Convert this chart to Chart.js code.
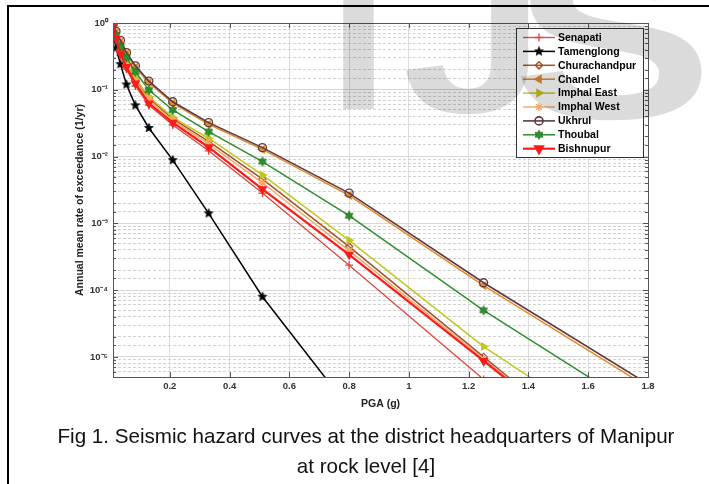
<!DOCTYPE html>
<html><head><meta charset="utf-8">
<script src="https://cdn.jsdelivr.net/npm/chart.js@4.4.1/dist/chart.umd.min.js"></script>
<style>
html,body{margin:0;padding:0;background:#fff;overflow:hidden;width:709px;height:484px;}
#wrap{position:relative;width:709px;height:484px;overflow:hidden;}
#c{position:absolute;left:0;top:0;}
#frame{position:absolute;left:7px;top:5px;width:900px;height:900px;border-left:2px solid #000;border-top:2px solid #000;pointer-events:none;}
#cap{position:absolute;left:9px;width:714px;top:421px;text-align:center;font-family:"Liberation Sans",Arial,sans-serif;font-size:20.6px;line-height:30px;color:#111;}
.wm{position:absolute;font-family:"Liberation Sans",Arial,sans-serif;font-weight:bold;color:rgba(0,0,0,0.14);pointer-events:none;line-height:1;white-space:nowrap;}
</style></head>
<body><div id="wrap">
<canvas id="c" width="709" height="484"></canvas>
<div id="frame"></div>
<div id="cap">Fig 1. Seismic hazard curves at the district headquarters of Manipur<br>at rock level [4]</div>
<div class="wm" style="left:329px;top:-70px;font-size:212px;">I</div>
<div class="wm" style="left:402px;top:-78px;font-size:225px;transform:scaleX(1.15);transform-origin:left top;">J</div>
<div class="wm" style="left:512px;top:-78px;font-size:232px;transform:scaleX(1.3);transform-origin:left top;">S</div>
</div>
<script>
// ---- data ----
const pga = [0.01, 0.02, 0.035, 0.055, 0.085, 0.13, 0.21, 0.33, 0.51, 0.8, 1.25, 2.0];
const senapati      = [0.87, 0.55, 0.33, 0.204, 0.114, 0.059, 0.0297, 0.0122, 0.00284, 2.36e-4, 4.6e-6, 6.6e-9];
const tamenglong    = [0.70, 0.42, 0.242, 0.120, 0.0585, 0.0268, 0.00883, 0.00141, 7.97e-5, 1.7e-6, null, null];
const churachandpur = [0.90, 0.61, 0.40, 0.237, 0.140, 0.075, 0.0365, 0.0169, 0.0046, 4.49e-4, 1.0e-5, 1.8e-8];
const chandel       = [0.93, 0.72, 0.52, 0.345, 0.217, 0.128, 0.063, 0.0305, 0.0128, 0.00262, 1.17e-4, 9.8e-7];
const imphalEast    = [0.90, 0.63, 0.42, 0.248, 0.148, 0.0787, 0.0387, 0.0188, 0.0053, 5.57e-4, 1.43e-5, 8.5e-8];
const imphalWest    = [0.89, 0.60, 0.38, 0.229, 0.135, 0.070, 0.0347, 0.0155, 0.00405, 3.91e-4, 9.3e-6, 2.0e-8];
const ukhrul        = [0.95, 0.75, 0.55, 0.361, 0.228, 0.135, 0.0662, 0.0322, 0.0136, 0.00284, 1.29e-4, 1.1e-6];
const thoubal       = [0.92, 0.66, 0.44, 0.305, 0.186, 0.099, 0.0498, 0.0236, 0.0084, 0.0013, 4.98e-5, 3.7e-7];
const bishnupur     = [0.88, 0.58, 0.35, 0.220, 0.125, 0.0626, 0.0322, 0.0138, 0.00326, 3.41e-4, 8.7e-6, 1.9e-8];
const seriesNames = ['Senapati','Tamenglong','Churachandpur','Chandel','Imphal East','Imphal West','Ukhrul','Thoubal','Bishnupur'];
const seriesValues = [senapati, tamenglong, churachandpur, chandel, imphalEast, imphalWest, ukhrul, thoubal, bishnupur];
const xTicks = [0.2, 0.4, 0.6, 0.8, 1, 1.2, 1.4, 1.6, 1.8];
const xMin = 0.01, xMax = 1.8, yMin = 5e-6, yMax = 1;
const xTitle = 'PGA (g)';
const yTitle = 'Annual mean rate of exceedance (1/yr)';

// ---- marker images ----
function starCanvas(n, ro, ri, fill, stroke) {
  const s = Math.ceil(ro * 2 + 4);
  const c = document.createElement('canvas'); c.width = s; c.height = s;
  const g = c.getContext('2d');
  g.beginPath();
  for (let i = 0; i < 2 * n; i++) {
    const r = i % 2 ? ri : ro;
    const a = -Math.PI / 2 + i * Math.PI / n;
    const px = s / 2 + r * Math.cos(a), py = s / 2 + r * Math.sin(a);
    if (i) g.lineTo(px, py); else g.moveTo(px, py);
  }
  g.closePath(); g.fillStyle = fill; g.fill();
  g.strokeStyle = stroke; g.lineWidth = 0.8; g.stroke();
  return c;
}
const pentagram = starCanvas(5, 4.6, 2.0, '#000', '#000');
const hexagram = starCanvas(6, 4.6, 2.6, '#2f8f2f', '#1f6f1f');

const styles = [
  {color:'#e0463c', width:1.3, point:'cross', rot:0, r:4, fill:'#e0463c'},
  {color:'#000000', width:1.5, point:pentagram, rot:0, r:4, fill:'#000'},
  {color:'#a0522d', width:1.5, point:'rectRot', rot:0, r:3.6, fill:'rgba(0,0,0,0)'},
  {color:'#e8872a', width:1.5, point:'triangle', rot:-90, r:4, fill:'#e8872a'},
  {color:'#c3c61c', width:1.5, point:'triangle', rot:90, r:4, fill:'#c3c61c'},
  {color:'#f4ab6a', width:1.5, point:'star', rot:0, r:4, fill:'#f4ab6a'},
  {color:'#5b3a3f', width:1.6, point:'circle', rot:0, r:4, fill:'rgba(0,0,0,0)'},
  {color:'#2f8f2f', width:1.5, point:hexagram, rot:0, r:4, fill:'#2f8f2f'},
  {color:'#ff1a1a', width:2.2, point:'triangle', rot:180, r:4.5, fill:'#ff1a1a'}
];

const datasets = seriesNames.map((name, i) => {
  const st = styles[i];
  const pts = [];
  pga.forEach((x, k) => { const v = seriesValues[i][k]; if (v !== null) pts.push({x: x, y: v}); });
  return {
    label: name, data: pts, borderColor: st.color, backgroundColor: st.color,
    borderWidth: st.width, pointStyle: st.point, pointRotation: st.rot, pointRadius: st.r,
    pointBackgroundColor: st.fill, pointBorderColor: st.color, pointBorderWidth: 1.3,
    tension: 0, fill: false, order: seriesNames.length - i, clip: 0
  };
});

const sup = {'-':'\u207B','0':'\u2070','1':'\u00B9','2':'\u00B2','3':'\u00B3','4':'\u2074','5':'\u2075','6':'\u2076'};
function isPow10(v) { const l = Math.log10(v); return Math.abs(l - Math.round(l)) < 1e-6; }

const framePlugin = {
  id: 'frame',
  afterDatasetsDraw(chart) {
    const {ctx, chartArea: a, scales} = chart;
    ctx.save();
    ctx.strokeStyle = '#555'; ctx.lineWidth = 1;
    ctx.beginPath();
    scales.y.ticks.forEach(t => {
      const y = Math.round(scales.y.getPixelForValue(t.value)) + 0.5;
      const L = isPow10(t.value) ? 5 : 3;
      ctx.moveTo(a.left, y); ctx.lineTo(a.left + L, y);
      ctx.moveTo(a.right, y); ctx.lineTo(a.right - L, y);
    });
    scales.x.ticks.forEach(t => {
      const x = Math.round(scales.x.getPixelForValue(t.value)) + 0.5;
      ctx.moveTo(x, a.bottom); ctx.lineTo(x, a.bottom - 5);
      ctx.moveTo(x, a.top); ctx.lineTo(x, a.top + 5);
    });
    ctx.stroke();
    ctx.strokeRect(Math.round(a.left) + 0.5, Math.round(a.top) + 0.5, Math.round(a.right - a.left), Math.round(a.bottom - a.top));
    ctx.restore();
  },
  afterDraw(chart) {
    const {ctx, chartArea: a} = chart;
    const w = 127, h = 129;
    const left = a.right - 5 - w, top = a.top + 5;
    ctx.save();
    ctx.fillStyle = '#fff'; ctx.fillRect(left, top, w, h);
    ctx.strokeStyle = '#333'; ctx.lineWidth = 1;
    ctx.strokeRect(Math.round(left) + 0.5, Math.round(top) + 0.5, w, h);
    ctx.font = 'bold 10.5px "Liberation Sans", Arial, sans-serif';
    ctx.textBaseline = 'middle'; ctx.textAlign = 'left';
    chart.data.datasets.forEach((ds, i) => {
      const y = top + 9.5 + i * 13.9;
      ctx.strokeStyle = ds.borderColor; ctx.lineWidth = ds.borderWidth;
      ctx.beginPath(); ctx.moveTo(left + 7, y); ctx.lineTo(left + 39, y); ctx.stroke();
      ctx.fillStyle = ds.pointBackgroundColor; ctx.strokeStyle = ds.pointBorderColor;
      Chart.helpers.drawPoint(ctx, {pointStyle: ds.pointStyle, rotation: ds.pointRotation, radius: ds.pointRadius, borderWidth: ds.pointBorderWidth}, left + 23, y);
      ctx.fillStyle = '#000';
      ctx.fillText(ds.label, left + 42, y + 0.5);
    });
    ctx.restore();
  }
};

const tickFont = {family: '"Liberation Sans", Arial, sans-serif', size: 9.5, weight: 'bold'};
const titleFont = {family: '"Liberation Sans", Arial, sans-serif', size: 10.5, weight: 'bold'};

new Chart(document.getElementById('c'), {
  type: 'line',
  data: {datasets: datasets},
  options: {
    responsive: false, animation: false, events: [],
    layout: {padding: {left: 60, right: 61, top: 23, bottom: 67}},
    plugins: {legend: {display: false}, tooltip: {enabled: false}},
    scales: {
      x: {
        type: 'linear', min: xMin, max: xMax,
        afterBuildTicks: s => { s.ticks = xTicks.map(v => ({value: v})); },
        afterFit: s => { s.height = 40; },
        ticks: {font: tickFont, color: '#333', padding: 4, autoSkip: false, maxRotation: 0,
                callback: v => String(v)},
        grid: {color: '#dedede', lineWidth: 1, drawTicks: false},
        border: {display: false},
        title: {display: true, text: xTitle, font: titleFont, color: '#222', padding: {top: 0, bottom: 7}}
      },
      y: {
        type: 'logarithmic', min: yMin, max: yMax,
        afterFit: s => { s.width = 53; },
        ticks: {font: tickFont, color: '#333', padding: 5, autoSkip: false,
                callback: v => isPow10(v) ? '10' + String(Math.round(Math.log10(v))).split('').map(ch => sup[ch]).join('') : ''},
        grid: {
          color: ctx => (ctx.tick && isPow10(ctx.tick.value)) ? '#d6d6d6' : '#d2d2d2',
          lineWidth: 1, drawTicks: false
        },
        border: {display: false, dash: ctx => (ctx.tick && !isPow10(ctx.tick.value)) ? [3, 2] : []},
        title: {display: true, text: yTitle, font: titleFont, color: '#222', padding: {top: 14, bottom: 0}}
      }
    }
  },
  plugins: [framePlugin]
});
</script>
</body></html>
